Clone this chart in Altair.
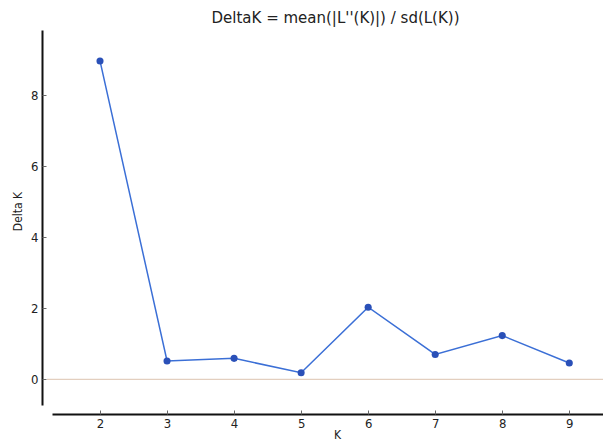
import altair as alt
import pandas as pd

k_values = [2, 3, 4, 5, 6, 7, 8, 9]
delta_k = [8.96, 0.515, 0.59, 0.186, 2.03, 0.70, 1.23, 0.46]
y_ticks = [0, 2, 4, 6, 8]
x_ticks = [2, 3, 4, 5, 6, 7, 8, 9]
zero_level = [0]

df = pd.DataFrame({"K": k_values, "DeltaK": delta_k})
zero_df = pd.DataFrame({"z": zero_level})

W, H = 551, 375
FONT = "DejaVu Sans Condensed"

xscale = alt.Scale(domain=[1.284, 9.503], nice=False, zero=False)
yscale = alt.Scale(domain=[-0.723, 9.83], nice=False, zero=False)

x_main = alt.Axis(values=x_ticks, format="d", ticks=False, offset=9, domainColor="#111111",
                  domainWidth=2, labelPadding=3, labelFont=FONT, labelFontSize=13,
                  labelColor="#222222", grid=False, title="K", titleFont=FONT,
                  titleFontSize=12, titleFontWeight="normal", titleColor="#222222",
                  titleX=285, titleY=24, titleBaseline="alphabetic", orient="bottom")
y_main = alt.Axis(values=y_ticks, ticks=False, offset=10, domainColor="#111111",
                  domainWidth=2, labelPadding=4, labelFont=FONT, labelFontSize=13,
                  labelColor="#222222", grid=False, title="Delta K", titleFont=FONT,
                  titleFontSize=12, titleFontWeight="normal", titleColor="#222222",
                  titleX=-25, titleY=181, titleBaseline="middle", titleAlign="center",
                  orient="left")
x_tick_axis = alt.Axis(values=x_ticks, domain=False, labels=False, ticks=True,
                       tickSize=4, offset=5, tickColor="#666666", tickWidth=1, grid=False,
                       title=None, orient="bottom")
y_tick_axis = alt.Axis(values=y_ticks, domain=False, labels=False, ticks=True,
                       tickSize=4, offset=6, tickColor="#666666", tickWidth=1, grid=False,
                       title=None, orient="left")

zero = alt.Chart(zero_df).mark_rule(color="#dcc3b0", strokeWidth=1).encode(
    y=alt.Y("z:Q", scale=yscale, axis=None),
    x=alt.value(-5), x2=alt.value(W),
)

line = alt.Chart(df).mark_line(color="#3b6fd6", strokeWidth=1.5).encode(
    x=alt.X("K:Q", scale=xscale, axis=x_main),
    y=alt.Y("DeltaK:Q", scale=yscale, axis=y_main),
)

points = alt.Chart(df).mark_circle(color="#2a50b8", size=50, opacity=1).encode(
    x=alt.X("K:Q", scale=xscale, axis=x_tick_axis),
    y=alt.Y("DeltaK:Q", scale=yscale, axis=y_tick_axis),
)

chart = alt.layer(zero, line, points).resolve_axis(x="independent", y="independent").properties(
    width=W, height=H,
    background="white",
    autosize=alt.AutoSizeParams(type="none"),
    padding={"left": 44, "top": 22, "right": 0, "bottom": 36},
    title=alt.TitleParams("DeltaK = mean(|L''(K)|) / sd(L(K))", font="DejaVu Sans", fontSize=15,
                          fontWeight="normal", color="#222222", anchor="middle", frame="group",
                          dx=8, offset=4),
).configure_view(stroke="transparent", strokeWidth=0)

chart.save("out.html", embed_options={"renderer": "svg", "actions": False})
